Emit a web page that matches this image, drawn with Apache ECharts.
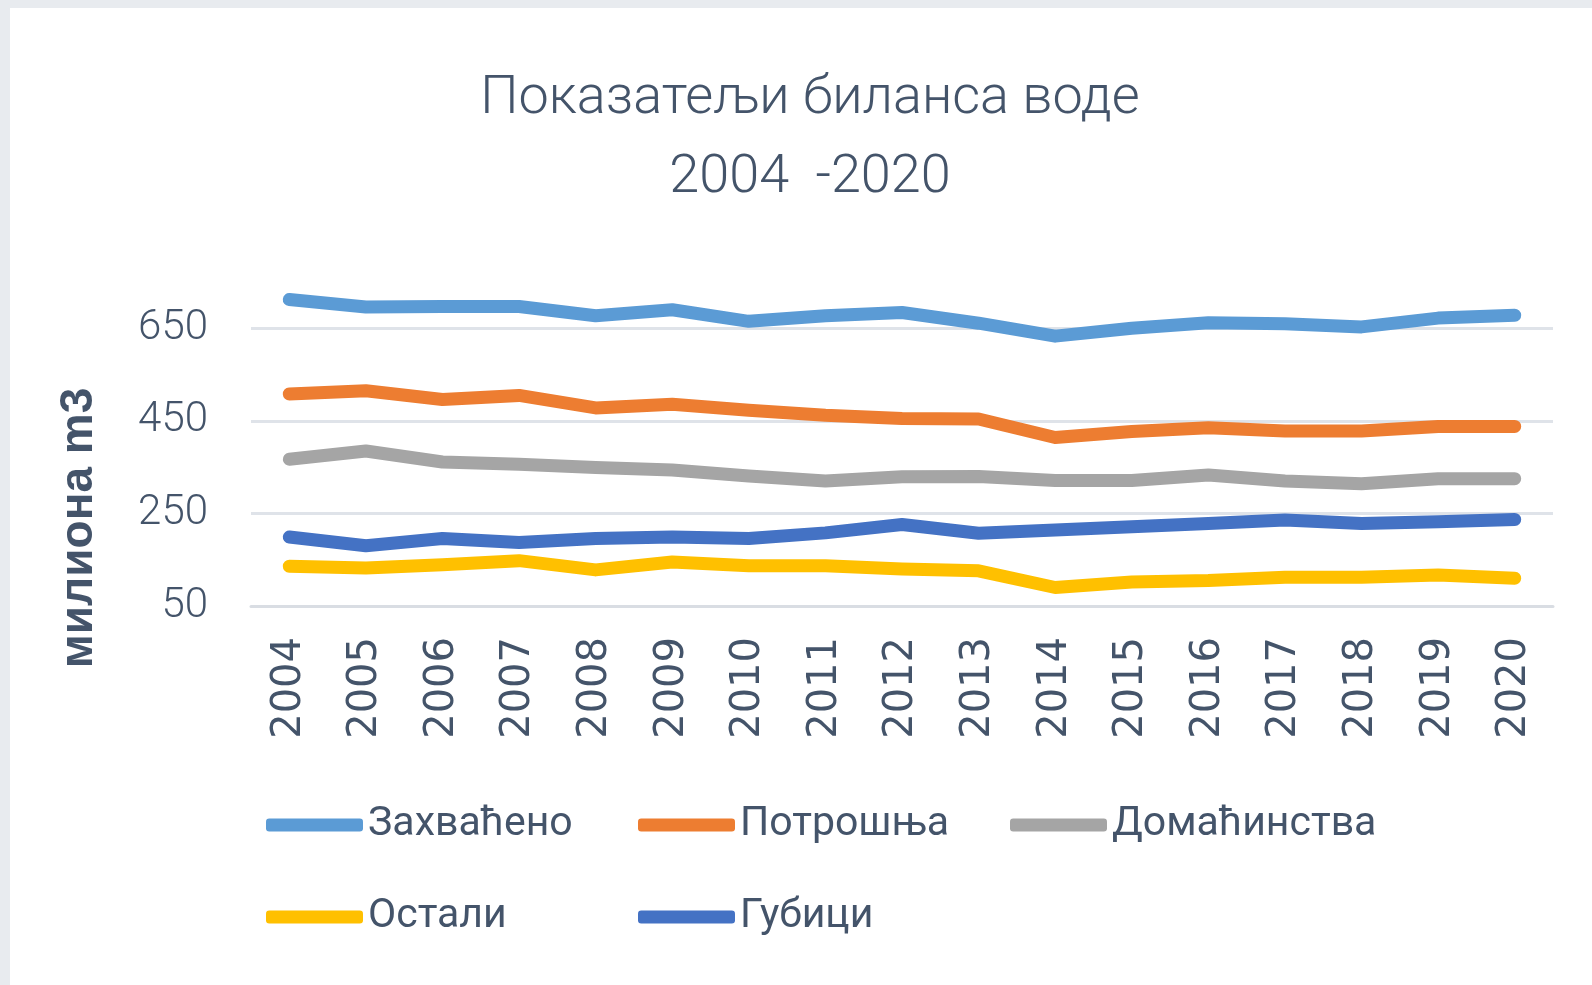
<!DOCTYPE html>
<html>
<head>
<meta charset="utf-8">
<script src="https://cdn.jsdelivr.net/npm/echarts@6/dist/echarts.min.js"></script>
<style>
  html, body { margin: 0; padding: 0; background: #e8ebef; }
  #frame { position: absolute; left: 10px; top: 8px; right: 0; bottom: 0; background: #fff; }
  #chart { position: absolute; left: 0; top: 0; width: 1592px; height: 985px; }
</style>
</head>
<body>
<div id="frame"></div>
<div id="chart"></div>
<script>
const years = ["2004", "2005", "2006", "2007", "2008", "2009", "2010", "2011", "2012",
  "2013", "2014", "2015", "2016", "2017", "2018", "2019", "2020"];

const zahvaceno = [712, 696, 697, 697, 677, 690, 665, 677, 684, 661, 633, 650, 662, 660, 653, 672, 678];
const potrosnja = [508, 515, 496, 505, 478, 486, 473, 462, 455, 454, 414, 427, 435, 428, 428, 438, 438];
const domacinstva = [367, 385, 361, 356, 349, 344, 331, 320, 329, 330, 321, 321, 333, 320, 314, 325, 325];
const ostali = [136, 132, 139, 148, 128, 145, 137, 137, 130, 126, 90, 102, 105, 112, 112, 117, 110];
const gubici = [199, 180, 196, 187, 196, 199, 196, 208, 226, 207, 214, 221, 228, 236, 228, 232, 237];

const seriesNames = ["Захваћено", "Потрошња", "Домаћинства", "Остали", "Губици"];
const seriesColors = ["#5b9bd5", "#ed7d31", "#a5a5a5", "#ffc000", "#4472c4"];
const seriesData = [zahvaceno, potrosnja, domacinstva, ostali, gubici];

const textColor = "#44546a";
const font = "Roboto, 'DejaVu Sans Condensed', sans-serif";

const chart = echarts.init(document.getElementById("chart"));

const legendBase = {
  orient: "horizontal",
  icon: "roundRect",
  itemWidth: 97,
  itemHeight: 13,
  itemGap: 2,
  padding: 0,
  selectedMode: false,
  textStyle: { fontFamily: font, fontSize: 41, color: textColor, width: 268, lineHeight: 60 },
};

chart.setOption({
  backgroundColor: "transparent",
  animation: false,
  title: {
    text: "Показатељи биланса воде\n2004  -2020",
    left: 810,
    top: 60,
    textAlign: "center",
    padding: 0,
    textStyle: { fontFamily: font, fontSize: 54, fontWeight: 300, color: textColor, lineHeight: 79 },
  },
  legend: [
    Object.assign({}, legendBase, { left: 266, top: 795, data: seriesNames.slice(0, 3) }),
    Object.assign({}, legendBase, { left: 266, top: 887, data: seriesNames.slice(3) }),
  ],
  grid: { left: 251, right: 39, top: 282, bottom: 379, containLabel: false },
  xAxis: {
    type: "category",
    data: years,
    boundaryGap: true,
    axisLine: { lineStyle: { color: "#d9dde3", width: 3 } },
    axisTick: { length: 17, lineStyle: { color: "#d9dde3", width: 3 } },
    axisLabel: {
      rotate: 90,
      margin: 31,
      interval: 0,
      fontFamily: "'DejaVu Sans', sans-serif",
      fontSize: 40,
      color: textColor,
    },
  },
  yAxis: {
    type: "value",
    min: 50,
    max: 750,
    interval: 200,
    axisLine: { show: false },
    axisTick: { show: false },
    axisLabel: { margin: 43, fontFamily: font, fontSize: 42, fontWeight: 300, color: textColor, showMaxLabel: false },
    splitLine: { showMinLine: false, showMaxLine: false, lineStyle: { color: "#dfe3e9", width: 3 } },
  },
  graphic: [
    {
      type: "text",
      x: 79,
      y: 528,
      rotation: Math.PI / 2,
      style: {
        text: "милиона m3",
        font: "bold 46px 'Liberation Sans', sans-serif",
        fill: textColor,
        align: "center",
        verticalAlign: "middle",
      },
    },
  ],
  series: seriesNames.map((name, i) => ({
    name: name,
    type: "line",
    data: seriesData[i],
    showSymbol: false,
    symbol: "none",
    color: seriesColors[i],
    lineStyle: { width: 13, color: seriesColors[i], cap: "round", join: "round" },
  })),
});
</script>
</body>
</html>
